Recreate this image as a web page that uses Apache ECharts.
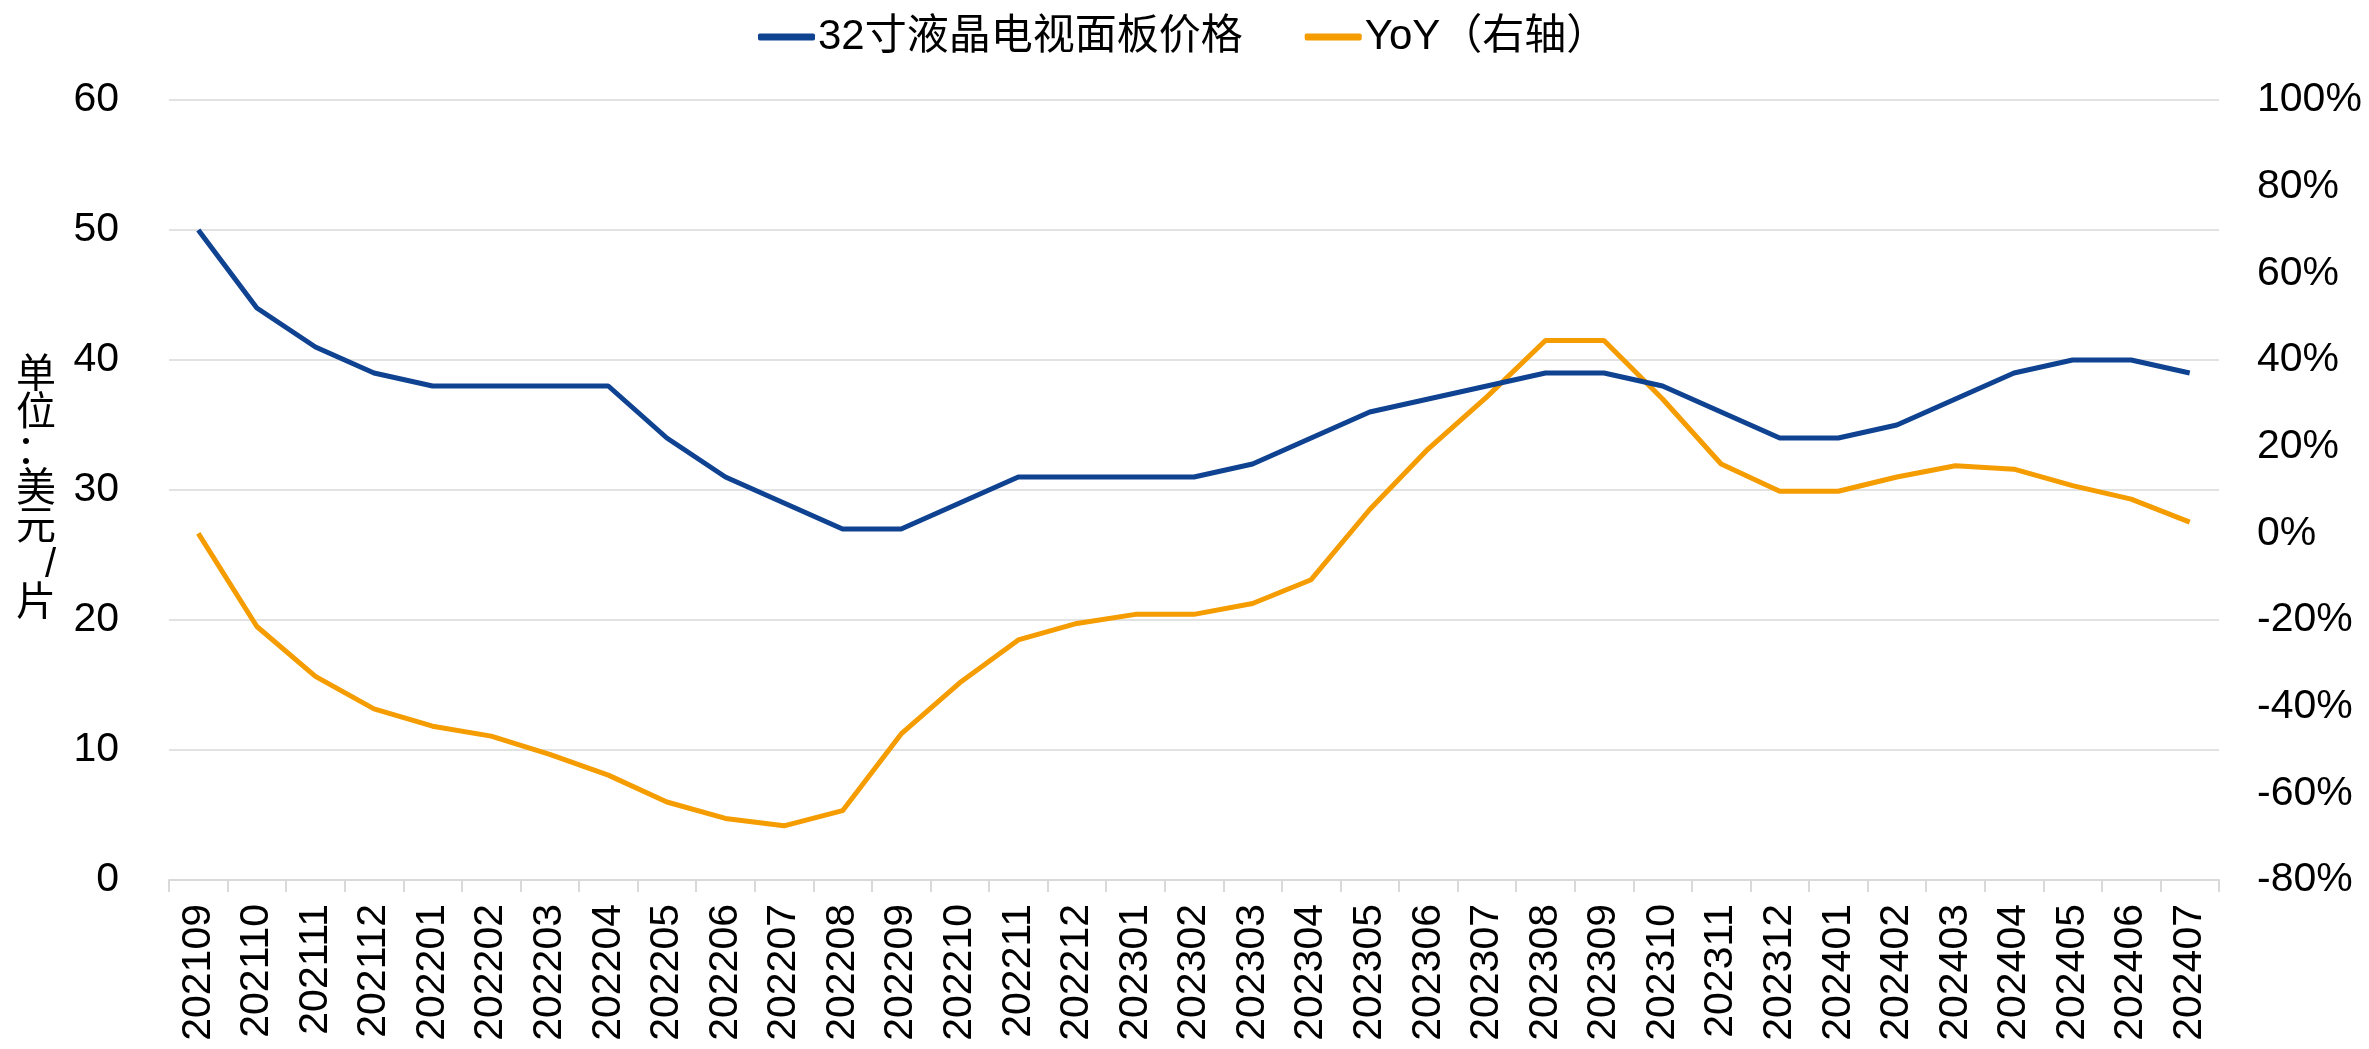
<!DOCTYPE html>
<html lang="zh">
<head>
    <meta charset="UTF-8">
    <title>32寸液晶电视面板价格</title>
    <style>
        html, body { margin: 0; padding: 0; background: #fff; }
        #chart { width: 2369px; height: 1049px; }
    </style>
    <script src="https://cdn.jsdelivr.net/npm/echarts@6/dist/echarts.min.js"></script>
</head>
<body>
<div id="chart"></div>
<script>
// 月份
var months = [
    '202109', '202110', '202111', '202112',
    '202201', '202202', '202203', '202204', '202205', '202206',
    '202207', '202208', '202209', '202210', '202211', '202212',
    '202301', '202302', '202303', '202304', '202305', '202306',
    '202307', '202308', '202309', '202310', '202311', '202312',
    '202401', '202402', '202403', '202404', '202405', '202406', '202407'
];
// 32寸液晶电视面板价格 (美元/片)
var panelPrice = [
    50, 44, 41, 39,
    38, 38, 38, 38, 34, 31,
    29, 27, 27, 29, 31, 31,
    31, 31, 32, 34, 36, 37,
    38, 39, 39, 38, 36, 34,
    34, 35, 37, 39, 40, 40, 39
];
// YoY (%), 右轴
var yoy = [
    0, -21.5, -33, -40.5,
    -44.5, -46.8, -51, -55.8, -62, -65.8,
    -67.5, -64, -46.3, -34.5, -24.6, -20.8,
    -18.7, -18.7, -16.2, -10.7, 5.5, 19.5,
    31.5, 44.5, 44.5, 31, 16, 9.7,
    9.7, 13, 15.6, 14.8, 11, 7.9, 2.6
];
var seriesNames = ['32寸液晶电视面板价格', 'YoY（右轴）'];
var unitLabel = '单位：美元/片';

var FONT = '"Liberation Sans", Arial, "Noto Sans CJK SC", sans-serif';
var BLUE = '#0f4391';
var ORANGE = '#f49c00';
var GRID_GRAY = '#d9d9d9';

var chart = echarts.init(document.getElementById('chart'));

var option = {
    backgroundColor: '#fff',
    textStyle: { fontFamily: FONT, color: '#000' },
    legend: {
        left: 753,
        top: 11,
        itemWidth: 57,
        itemHeight: 7,
        itemGap: 62,
        icon: 'roundRect',
        textStyle: { fontSize: 42, color: '#000', fontFamily: FONT, padding: [0, 0, 0, -2] },
        data: seriesNames
    },
    grid: {
        left: 169,
        right: 150,
        top: 100,
        bottom: 169,
        containLabel: false
    },
    xAxis: {
        type: 'category',
        data: months,
        boundaryGap: true,
        axisLine: { show: true, lineStyle: { color: GRID_GRAY, width: 2 } },
        axisTick: { show: true, length: 12, lineStyle: { color: GRID_GRAY, width: 2 } },
        axisLabel: {
            rotate: 90,
            interval: 0,
            margin: 24,
            fontSize: 41,
            color: '#000',
            fontFamily: FONT
        },
        splitLine: { show: false }
    },
    yAxis: [
        {
            type: 'value',
            min: 0,
            max: 60,
            interval: 10,
            name: unitLabel.split('').join('\n'),
            nameLocation: 'middle',
            nameRotate: 0,
            nameGap: 113,
            nameTextStyle: {
                fontSize: 40,
                lineHeight: 38,
                color: '#000',
                fontFamily: FONT
            },
            axisLine: { show: false },
            axisTick: { show: false },
            axisLabel: { margin: 50, fontSize: 41, color: '#000', fontFamily: FONT },
            splitLine: { show: true, lineStyle: { color: GRID_GRAY, width: 1.5 } }
        },
        {
            type: 'value',
            min: -80,
            max: 100,
            interval: 20,
            position: 'right',
            axisLine: { show: false },
            axisTick: { show: false },
            axisLabel: {
                margin: 38,
                fontSize: 41,
                color: '#000',
                fontFamily: FONT,
                formatter: '{value}%'
            },
            splitLine: { show: false }
        }
    ],
    series: [
        {
            name: seriesNames[0],
            type: 'line',
            yAxisIndex: 0,
            data: panelPrice,
            symbol: 'none',
            color: BLUE,
            lineStyle: { color: BLUE, width: 5 },
            z: 3
        },
        {
            name: seriesNames[1],
            type: 'line',
            yAxisIndex: 1,
            data: yoy,
            symbol: 'none',
            color: ORANGE,
            lineStyle: { color: ORANGE, width: 5 },
            z: 2
        }
    ],
    animation: false
};

chart.setOption(option);
</script>
</body>
</html>
